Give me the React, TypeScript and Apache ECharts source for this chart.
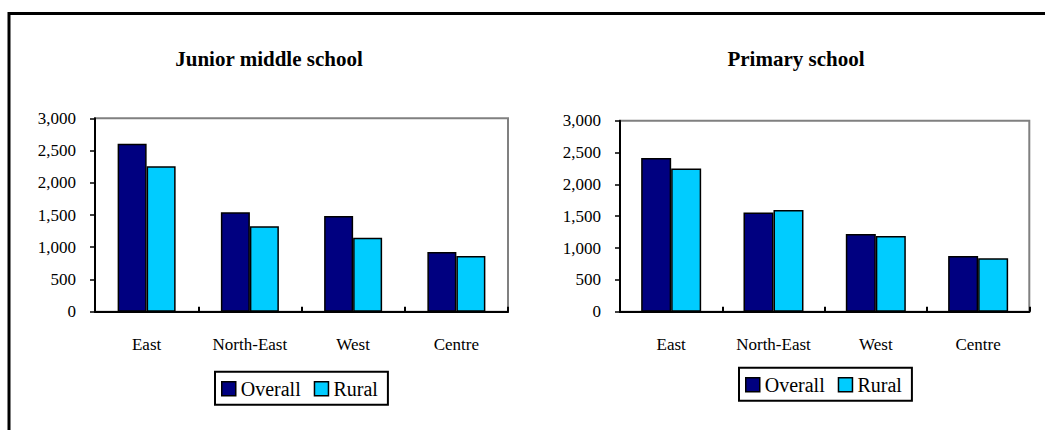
import React, { useEffect, useRef } from "react";
import * as echarts from "echarts";

// Regions on the category axis
const categories = ["East", "North-East", "West", "Centre"];

// Junior middle school
const juniorOverall = [2607, 1541, 1484, 926];
const juniorRural = [2255, 1324, 1148, 864];

// Primary school
const primarySchoolOverall = [2414, 1560, 1220, 874];
const primarySchoolRural = [2251, 1597, 1188, 838];

const seriesNames = ["Overall", "Rural"];
const yTicks = { min: 0, max: 3000, interval: 500 };

const FONT = "Liberation Serif";
const NAVY = "#000080";
const CYAN = "#00CCFF";

function xAxisFor(gridIndex: number) {
  return {
    type: "category",
    gridIndex,
    data: categories,
    boundaryGap: true,
    axisLine: { show: true, lineStyle: { color: "#000", width: 2 } },
    axisTick: {
      show: true,
      inside: true,
      length: 5,
      alignWithLabel: false,
      lineStyle: { color: "#000", width: 2 },
    },
    axisLabel: { color: "#000", fontFamily: FONT, fontSize: 17, margin: 24, interval: 0 },
    splitLine: { show: false },
  };
}

function yAxisFor(gridIndex: number) {
  return {
    type: "value",
    gridIndex,
    min: yTicks.min,
    max: yTicks.max,
    interval: yTicks.interval,
    axisLine: { show: true, lineStyle: { color: "#000", width: 2 } },
    axisTick: { show: true, inside: false, length: 5, lineStyle: { color: "#000", width: 1.5 } },
    axisLabel: {
      color: "#000",
      fontFamily: FONT,
      fontSize: 17,
      margin: 19,
      formatter: (v: number) => v.toLocaleString("en-US"),
    },
    splitLine: { show: false },
  };
}

function barSeries(name: string, data: number[], color: string, idx: number, width: number) {
  return {
    type: "bar",
    name,
    data,
    xAxisIndex: idx,
    yAxisIndex: idx,
    barWidth: width,
    barGap: "0%",
    itemStyle: { color, borderColor: "#000", borderWidth: 1.5 },
  };
}

function legendAt(left: number, top: number) {
  return {
    data: seriesNames,
    left,
    top,
    orient: "horizontal",
    icon: "rect",
    itemWidth: 14,
    itemHeight: 14,
    itemGap: 13,
    padding: [7, 10, 6, 6],
    borderColor: "#000",
    borderWidth: 2,
    backgroundColor: "#fff",
    itemStyle: { borderColor: "#000", borderWidth: 1.5 },
    textStyle: { color: "#000", fontFamily: FONT, fontSize: 20 },
    selectedMode: false,
  };
}

export default function App() {
  const ref = useRef<HTMLDivElement>(null);

  useEffect(() => {
    if (!ref.current) return;
    const chart = echarts.init(ref.current, undefined, { renderer: "svg" });

    chart.setOption({
      animation: false,
      backgroundColor: "#fff",
      title: [
        {
          text: "Junior middle school",
          left: 269,
          top: 48,
          textAlign: "center",
          padding: 0,
          textStyle: { fontFamily: FONT, fontSize: 21, fontWeight: "bold", color: "#000" },
        },
        {
          text: "Primary school",
          left: 796,
          top: 48,
          textAlign: "center",
          padding: 0,
          textStyle: { fontFamily: FONT, fontSize: 21, fontWeight: "bold", color: "#000" },
        },
      ],
      grid: [
        { left: 95, top: 118.3, width: 413, height: 193.4, show: true, borderColor: "#808080", borderWidth: 2, backgroundColor: "transparent" },
        { left: 620, top: 120.7, width: 409.3, height: 191, show: true, borderColor: "#808080", borderWidth: 2, backgroundColor: "transparent" },
      ],
      xAxis: [xAxisFor(0), xAxisFor(1)],
      yAxis: [yAxisFor(0), yAxisFor(1)],
      legend: [legendAt(215, 371.7), legendAt(739, 367.7)],
      series: [
        barSeries(seriesNames[0], juniorOverall, NAVY, 0, 29),
        barSeries(seriesNames[1], juniorRural, CYAN, 0, 29),
        barSeries(seriesNames[0], primarySchoolOverall, NAVY, 1, 30),
        barSeries(seriesNames[1], primarySchoolRural, CYAN, 1, 30),
      ],
      graphic: [
        {
          type: "rect",
          silent: true,
          z: 100,
          shape: { x: 9, y: 13.5, width: 1100, height: 500 },
          style: { fill: "none", stroke: "#000", lineWidth: 3 },
        },
      ],
    });

    return () => chart.dispose();
  }, []);

  return (
    <div
      ref={ref}
      style={{ position: "absolute", left: 0, top: 0, width: 1045, height: 430 }}
    />
  );
}
